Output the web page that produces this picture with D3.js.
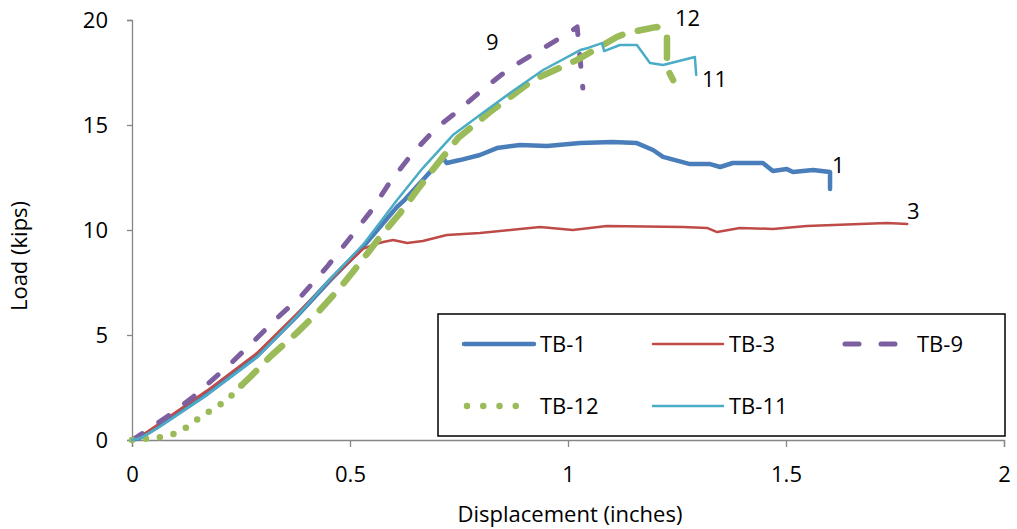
<!DOCTYPE html>
<html>
<head>
<meta charset="utf-8">
<script src="https://cdn.jsdelivr.net/npm/d3@7"></script>
<style>
  body { margin: 0; background: #fff; }
  svg text { font-family: 'Open Sans', sans-serif; fill: #000; }
</style>
</head>
<body>
<div id="chart"></div>
<script>
// displacement (in) / load (kips) pairs
const tb1 = [
  [0, 0], [0.018, 0.1], [0.057, 0.6], [0.172, 2.2], [0.287, 4.0], [0.378, 5.9],
  [0.454, 7.6], [0.53, 9.2], [0.608, 11.1], [0.626, 11.45], [0.713, 13.43],
  [0.722, 13.19], [0.752, 13.33], [0.798, 13.57], [0.837, 13.9], [0.89, 14.05],
  [0.952, 14.0], [1.028, 14.14], [1.103, 14.19], [1.158, 14.14], [1.195, 13.81],
  [1.218, 13.48], [1.28, 13.14], [1.326, 13.14], [1.349, 13.0], [1.378, 13.19],
  [1.447, 13.19], [1.47, 12.81], [1.502, 12.9], [1.516, 12.76], [1.562, 12.86],
  [1.601, 12.76], [1.601, 11.95]
];
const tb3 = [
  [0, 0], [0.018, 0.15], [0.057, 0.7], [0.172, 2.35], [0.287, 4.15], [0.378, 6.0],
  [0.454, 7.6], [0.53, 9.1], [0.553, 9.29], [0.576, 9.43], [0.599, 9.52],
  [0.631, 9.38], [0.667, 9.48], [0.722, 9.76], [0.798, 9.86], [0.89, 10.05],
  [0.936, 10.14], [1.011, 10.0], [1.089, 10.19], [1.264, 10.14], [1.319, 10.1],
  [1.342, 9.9], [1.394, 10.1], [1.47, 10.05], [1.548, 10.19], [1.67, 10.29],
  [1.732, 10.33], [1.778, 10.29]
];
const tb9 = [
  [0, 0], [0.011, 0.14], [0.08, 1.1], [0.14, 2.05], [0.218, 3.48], [0.275, 4.62],
  [0.333, 5.81], [0.39, 6.9], [0.447, 8.24], [0.5, 9.62], [0.55, 10.95],
  [0.592, 12.29], [0.644, 13.67], [0.7, 14.9], [0.745, 15.62], [0.803, 16.67],
  [0.867, 17.71], [0.936, 18.57], [1.005, 19.43], [1.021, 19.67], [1.034, 16.76]
];
const tb12 = [
  [0, 0], [0.03, 0.05], [0.067, 0.14], [0.103, 0.33], [0.133, 0.71], [0.163, 1.19],
  [0.195, 1.57], [0.225, 2.05], [0.252, 2.62], [0.271, 3.0], [0.321, 4.05],
  [0.378, 5.1], [0.427, 6.1], [0.477, 7.24], [0.523, 8.43], [0.569, 9.67],
  [0.615, 10.81], [0.654, 11.9], [0.702, 13.19], [0.748, 14.38], [0.821, 15.62],
  [0.92, 17.14], [1.021, 18.1], [1.112, 19.19], [1.135, 19.38], [1.204, 19.67],
  [1.227, 19.38], [1.227, 17.71], [1.241, 17.14]
];
const tb11 = [
  [0, 0], [0.018, 0.08], [0.057, 0.55], [0.172, 2.15], [0.287, 3.95], [0.378, 5.9],
  [0.454, 7.65], [0.53, 9.3], [0.608, 11.43], [0.667, 12.95], [0.736, 14.52],
  [0.798, 15.48], [0.867, 16.52], [0.943, 17.62], [1.028, 18.57], [1.046, 18.67],
  [1.078, 18.9], [1.083, 18.52], [1.119, 18.81], [1.158, 18.81], [1.188, 17.95],
  [1.218, 17.86], [1.291, 18.24], [1.294, 17.38]
];

const xTicks = [0, 0.5, 1, 1.5, 2];
const yTicks = [0, 5, 10, 15, 20];
const seriesNames = ['TB-1', 'TB-3', 'TB-9', 'TB-12', 'TB-11'];
const endLabels = ['1', '3', '9', '12', '11'];

const width = 1017;
const height = 529;
const fontSize = '22px';

const svg = d3
  .select('#chart')
  .append('svg')
  .attr('width', width)
  .attr('height', height);

const x = d3.scaleLinear().domain([0, 2]).range([132, 1004]);
const y = d3.scaleLinear().domain([0, 20]).range([440, 20]);

// axes
const xAxis = svg
  .append('g')
  .attr('transform', 'translate(0,' + y(0) + ')')
  .call(d3.axisBottom(x).tickValues(xTicks).tickSize(7).tickPadding(22)
    .tickFormat(d3.format('')));
const yAxis = svg
  .append('g')
  .attr('transform', 'translate(' + x(0) + ',0)')
  .call(d3.axisLeft(y).tickValues(yTicks).tickSize(5).tickPadding(19));

[xAxis, yAxis].forEach(a => {
  a.select('.domain').attr('stroke', '#868686').attr('stroke-width', 1.3);
  a.selectAll('.tick line').attr('stroke', '#868686').attr('stroke-width', 1.3);
  a.selectAll('.tick text')
    .style('font-family', "'Open Sans', sans-serif")
    .style('font-size', fontSize)
    .attr('fill', '#000');
});
yAxis.selectAll('.tick text').attr('dy', '0.36em');
xAxis.selectAll('.tick text').attr('dy', '0.6em');

svg
  .append('text')
  .text('Displacement (inches)')
  .attr('x', 570)
  .attr('y', 522)
  .attr('text-anchor', 'middle')
  .style('font-size', fontSize);

svg
  .append('text')
  .text('Load (kips)')
  .attr('transform', 'translate(27,256) rotate(-90)')
  .attr('text-anchor', 'middle')
  .style('font-size', fontSize);

const line = d3.line().x(d => x(d[0])).y(d => y(d[1]));

// series styles
const styles = {
  'TB-1': { color: '#4a7ebb', w: 4.5, dash: null },
  'TB-3': { color: '#be4b48', w: 2.5, dash: null },
  'TB-9': { color: '#7d5fa0', w: 5, dash: '12,20' },
  'TB-12': { color: '#9bbb59', w: 6.5, dash: '0,15' },
  'TB-11': { color: '#4bacc6', w: 2.5, dash: null }
};

function drawLine(data, s, dash) {
  svg
    .append('path')
    .datum(data)
    .attr('d', line)
    .attr('fill', 'none')
    .attr('stroke', s.color)
    .attr('stroke-width', s.w)
    .attr('stroke-linejoin', 'round')
    .attr('stroke-linecap', 'round')
    .attr('stroke-dasharray', dash);
}

drawLine(tb1, styles['TB-1'], null);
drawLine(tb3, styles['TB-3'], null);
drawLine(tb9, styles['TB-9'], styles['TB-9'].dash);
// TB-12 renders as dots low down and longer dashes higher up
drawLine(tb12.slice(0, 9), styles['TB-12'], '0,14');
drawLine(tb12.slice(8), styles['TB-12'], '20,16');
drawLine(tb11, styles['TB-11'], null);

// end labels
const labelPos = [[832, 173], [907, 219], [486, 50], [675, 26], [702, 87]];
endLabels.forEach((t, i) => {
  svg
    .append('text')
    .text(t)
    .attr('x', labelPos[i][0])
    .attr('y', labelPos[i][1])
    .style('font-size', fontSize);
});

// legend
svg
  .append('rect')
  .attr('x', 438)
  .attr('y', 314)
  .attr('width', 567)
  .attr('height', 122)
  .attr('fill', '#fff')
  .attr('stroke', '#000')
  .attr('stroke-width', 1.5);

const legendPos = [[464, 344], [653, 344], [842, 344], [464, 406], [653, 406]];
seriesNames.forEach((name, i) => {
  const s = styles[name];
  const [lx, ly] = legendPos[i];
  let x1 = lx, x2 = lx + 70, dash = s.dash, tx = lx + 76;
  if (name === 'TB-9') { x1 = 845; x2 = 895; dash = '14,22'; tx = 917; }
  if (name === 'TB-12') { x1 = 467; x2 = 532; dash = '0,16.25'; }
  svg
    .append('line')
    .attr('x1', x1)
    .attr('x2', x2)
    .attr('y1', ly)
    .attr('y2', ly)
    .attr('stroke', s.color)
    .attr('stroke-width', s.w)
    .attr('stroke-linecap', 'round')
    .attr('stroke-dasharray', dash);
  svg
    .append('text')
    .text(name)
    .attr('x', tx)
    .attr('y', ly + 8)
    .style('font-size', fontSize);
});
</script>
</body>
</html>
